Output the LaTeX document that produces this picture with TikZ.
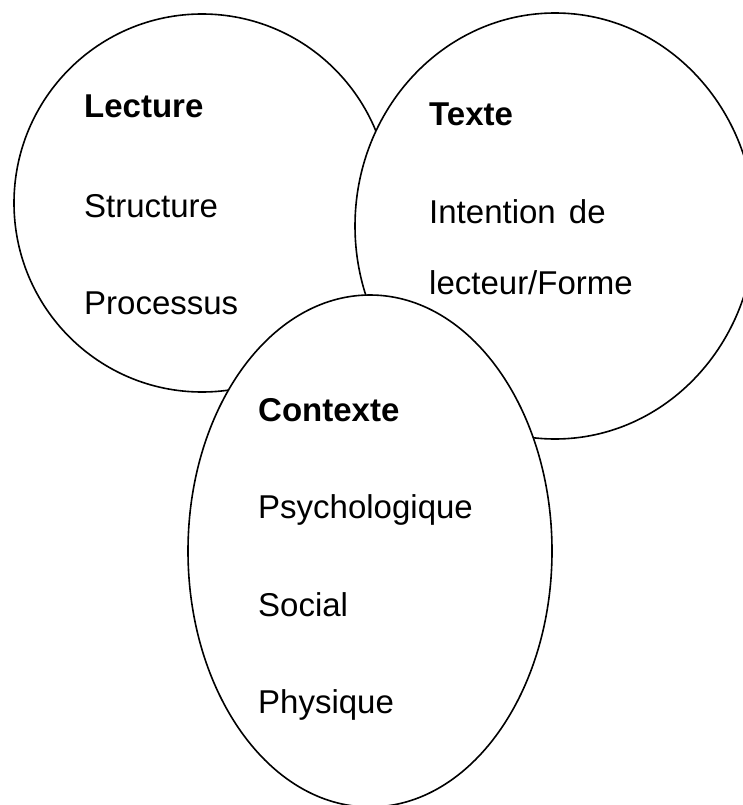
\documentclass[tikz,border=0pt]{standalone}
\usepackage{fontspec}
\setmainfont{Liberation Sans}
\usetikzlibrary{shapes.geometric}
\tikzset{
  blob/.style={ellipse, draw=black, fill=white, line width=1.6pt, inner sep=0pt},
  lbl/.style={anchor=base west, inner sep=0pt, font=\fontsize{33}{40}\selectfont},
  ttl/.style={lbl, font=\fontsize{33}{40}\selectfont\bfseries}
}
\begin{document}
\begin{tikzpicture}[x=1pt,y=-1pt]
\useasboundingbox (0,0) rectangle (742,805);
\node[blob, minimum width=376pt, minimum height=378pt] (lect) at (202,203) {};
\node[blob, minimum width=400pt, minimum height=426pt] (txt) at (555,226) {};
\node[blob, minimum width=364pt, minimum height=512pt] (ctx) at (370,551) {};
\node[ttl] (t1) at (84,118) {Lecture};
\node[lbl] (a1) at (84,217) {Structure};
\node[lbl] (a2) at (84,314) {Processus};
\node[ttl] (t2) at (429,126) {Texte};
\node[lbl] (b1) at (429,223) {Intention\hspace{4pt} de};
\node[lbl] (b2) at (429,294) {lecteur/Forme};
\node[ttl] (t3) at (258,421) {Contexte};
\node[lbl] (c1) at (258,518) {Psychologique};
\node[lbl] (c2) at (258,616) {Social};
\node[lbl] (c3) at (258,713) {Physique};
\end{tikzpicture}
\end{document}
